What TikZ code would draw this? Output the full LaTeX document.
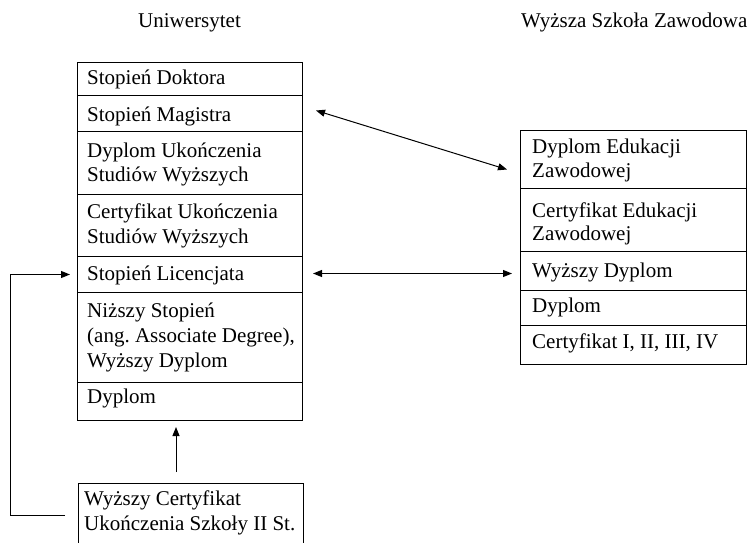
\documentclass[tikz,border=0pt]{standalone}
\usepackage{fontspec}
\setmainfont{Liberation Serif}
\frenchspacing
\usetikzlibrary{calc,arrows.meta}
\begin{document}
\begin{tikzpicture}[x=1pt,y=-1pt,
  row/.style={draw, line width=1pt, inner sep=0pt, anchor=north west, minimum width=225pt},
  rrow/.style={draw, line width=1pt, inner sep=0pt, anchor=north west, minimum width=226pt},
  txt/.style={anchor=base west, inner sep=0pt, font=\fontsize{21pt}{24.5pt}\selectfont},
  conn/.style={line width=1pt, {Triangle[length=9pt,width=7pt]}-{Triangle[length=9pt,width=7pt]}},
  oneway/.style={line width=1pt, -{Triangle[length=9pt,width=7pt]}}]
\clip (0,0) rectangle (749,543);
% headers
\node[txt] (h1) at (138,28) {Uniwersytet};
\node[txt] (h2) at (521,28) {Wyższa Szkoła Zawodowa};
% left column
\node[row, minimum height=33pt] (L1) at (77,62) {};
\node[row, minimum height=36pt] (L2) at (77,95) {};
\node[row, minimum height=63pt] (L3) at (77,131) {};
\node[row, minimum height=62pt] (L4) at (77,194) {};
\node[row, minimum height=36pt] (L5) at (77,256) {};
\node[row, minimum height=90pt] (L6) at (77,292) {};
\node[row, minimum height=38pt] (L7) at (77,382) {};
\node[txt] (t1) at (87,84) {Stopień Doktora};
\node[txt] (t2) at (87,121) {Stopień Magistra};
\node[txt] (t3a) at (87,157) {Dyplom Ukończenia};
\node[txt] (t3b) at (87,181) {Studiów Wyższych};
\node[txt] (t4a) at (87,218) {Certyfikat Ukończenia};
\node[txt] (t4b) at (87,243) {Studiów Wyższych};
\node[txt] (t5) at (87,280) {Stopień Licencjata};
\node[txt] (t6a) at (87,317) {Niższy Stopień};
\node[txt] (t6b) at (87,342) {(ang. Associate Degree),};
\node[txt] (t6c) at (87,367) {Wyższy Dyplom};
\node[txt] (t7) at (87,403) {Dyplom};
% bottom box
\node[row, minimum height=75pt] (B) at (78,483) {};
\node[txt] (b1) at (84,505) {Wyższy Certyfikat};
\node[txt] (b2) at (84,530) {Ukończenia Szkoły II St.};
% right column
\node[rrow, minimum height=58pt] (R1) at (520,130) {};
\node[rrow, minimum height=63pt] (R2) at (520,188) {};
\node[rrow, minimum height=39pt] (R3) at (520,251) {};
\node[rrow, minimum height=35pt] (R4) at (520,290) {};
\node[rrow, minimum height=39pt] (R5) at (520,325) {};
\node[txt] (s1a) at (532,153) {Dyplom Edukacji};
\node[txt] (s1b) at (532,177) {Zawodowej};
\node[txt] (s2a) at (532,217) {Certyfikat Edukacji};
\node[txt] (s2b) at (532,240) {Zawodowej};
\node[txt] (s3) at (532,277) {Wyższy Dyplom};
\node[txt] (s4) at (532,312) {Dyplom};
\node[txt] (s5) at (532,348) {Certyfikat I, II, III, IV};
% connectors
\draw[conn] ($(L2.east)+(13,-3)$) -- ($(R1.west)+(-13,10)$);
\draw[conn] ($(L5.east)+(10,-1)$) -- ($(R3.west)+(-8,2.5)$);
\draw[oneway] ($(B.north west)+(98,-11)$) -- ($(L7.south west)+(99,6)$);
\coordinate (c1) at ($(B.north west)+(-68,32)$);
\coordinate (c2) at ($(L5.west)+(-67,0)$);
\draw[oneway] ($(B.north west)+(-13,32)$) -- (c1) -- (c2) -- ($(L5.west)+(-7,0)$);
\end{tikzpicture}
\end{document}
